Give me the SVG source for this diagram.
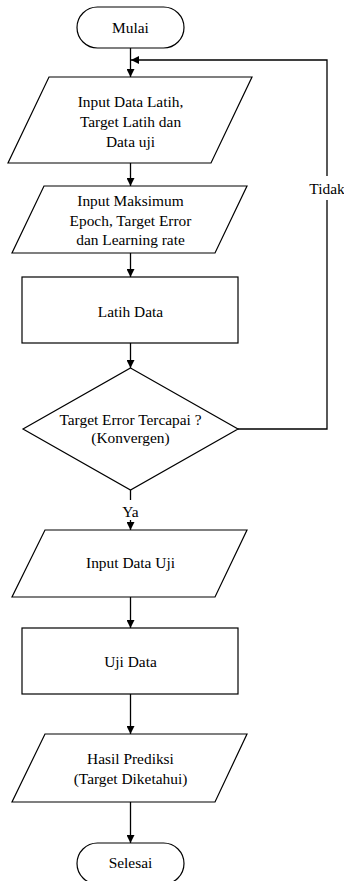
<svg xmlns="http://www.w3.org/2000/svg" width="344" height="881" viewBox="0 0 344 881">
<style>
.s{fill:#fff;stroke:#000;stroke-width:1.2}
.t{font-family:"Liberation Serif","Times New Roman",serif;font-size:15.4px;fill:#000;text-anchor:middle}
.c{fill:none;stroke:#000;stroke-width:1.3}
</style>
<defs>
<marker id="ah" markerWidth="8" markerHeight="8" refX="8" refY="4" orient="auto" markerUnits="userSpaceOnUse">
<path d="M0,0 L8,4 L0,8 Z" fill="#000"/>
</marker>
</defs>
<rect width="344" height="881" fill="#fff"/>
<g id="connectors">
<line class="c" x1="130.5" y1="48" x2="130.5" y2="77" marker-end="url(#ah)"/>
<polyline class="c" points="238,429 327,429 327,60 131,60" marker-end="url(#ah)"/>
<line class="c" x1="130.5" y1="163" x2="130.5" y2="186" marker-end="url(#ah)"/>
<line class="c" x1="130.5" y1="253" x2="130.5" y2="277" marker-end="url(#ah)"/>
<line class="c" x1="130.5" y1="343" x2="130.5" y2="368" marker-end="url(#ah)"/>
<line class="c" x1="130.5" y1="490" x2="130.5" y2="500"/>
<line class="c" x1="130.5" y1="520" x2="130.5" y2="530" marker-end="url(#ah)"/>
<line class="c" x1="130.5" y1="597" x2="130.5" y2="628" marker-end="url(#ah)"/>
<line class="c" x1="130.5" y1="694" x2="130.5" y2="734" marker-end="url(#ah)"/>
<line class="c" x1="130.5" y1="802" x2="130.5" y2="843" marker-end="url(#ah)"/>
<rect x="309" y="176" width="35" height="24" fill="#fff"/>
<text class="t" x="327" y="194">Tidak</text>
<text class="t" x="130.5" y="517">Ya</text>
</g>
<g id="mulai">
<rect class="s" x="77" y="7" width="107" height="41" rx="20.5"/>
<text class="t" x="130.5" y="33">Mulai</text>
</g>
<g id="input1">
<polygon class="s" points="49,77 252,77 211,163 8,163"/>
<text class="t" x="130.5" y="107">Input Data Latih,</text>
<text class="t" x="130.5" y="127">Target Latih dan</text>
<text class="t" x="130.5" y="147">Data uji</text>
</g>
<g id="input2">
<polygon class="s" points="44,186 247,186 215,253 12,253"/>
<text class="t" x="130.5" y="206">Input Maksimum</text>
<text class="t" x="130.5" y="226">Epoch, Target Error</text>
<text class="t" x="130.5" y="245">dan Learning rate</text>
</g>
<g id="latih">
<rect class="s" x="22" y="277" width="216" height="66"/>
<text class="t" x="130.5" y="317">Latih Data</text>
</g>
<g id="decision">
<polygon class="s" points="130.5,368 238,429 130.5,490 23,429"/>
<text class="t" x="130.5" y="425">Target Error Tercapai ?</text>
<text class="t" x="130.5" y="443">(Konvergen)</text>
</g>
<g id="input3">
<polygon class="s" points="45,530 247,530 215,597 12,597"/>
<text class="t" x="130.5" y="568">Input Data Uji</text>
</g>
<g id="uji">
<rect class="s" x="22" y="628" width="216" height="66"/>
<text class="t" x="130.5" y="667">Uji Data</text>
</g>
<g id="hasil">
<polygon class="s" points="45,734 247,734 215,802 12,802"/>
<text class="t" x="130.5" y="764">Hasil Prediksi</text>
<text class="t" x="130.5" y="784">(Target Diketahui)</text>
</g>
<g id="selesai">
<rect class="s" x="77" y="843" width="107" height="41" rx="20.5"/>
<text class="t" x="130.5" y="868">Selesai</text>
</g>
</svg>
